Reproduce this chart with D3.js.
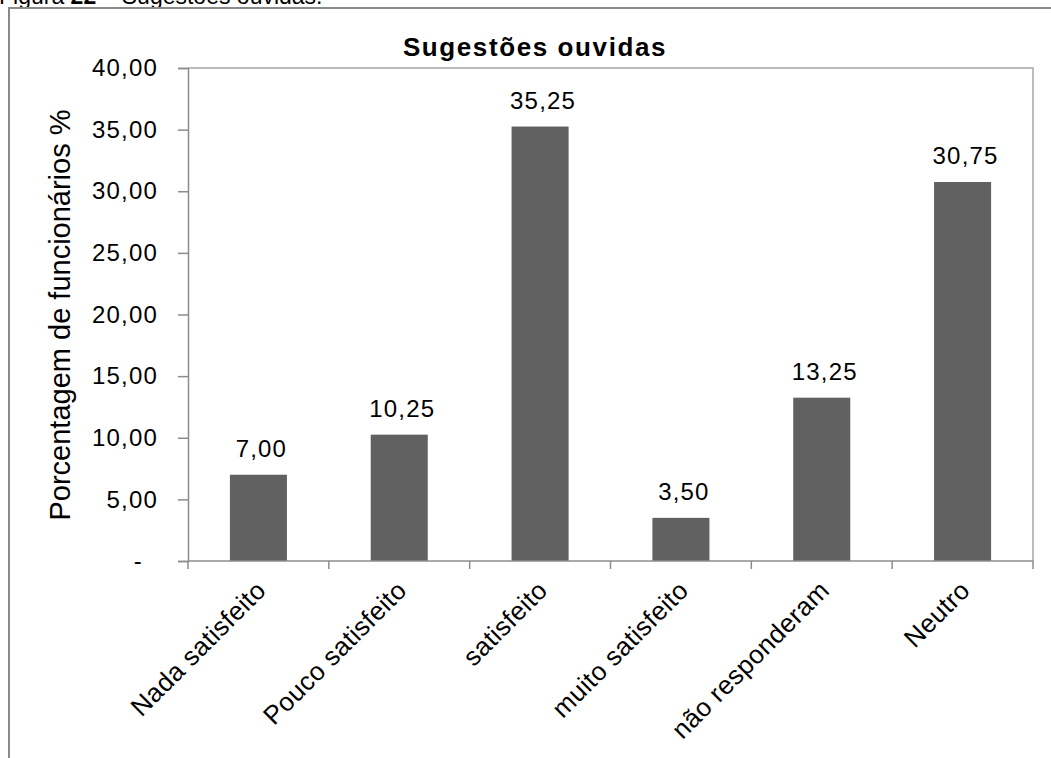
<!DOCTYPE html>
<html>
<head>
<meta charset="utf-8">
<script src="https://cdn.jsdelivr.net/npm/d3@7"></script>
<style>
  html, body { margin: 0; padding: 0; background: #fff; }
  svg { display: block; font-family: Arial, "Liberation Sans", sans-serif; }
</style>
</head>
<body>
<svg id="chart" width="1051" height="758"></svg>
<script>
// Survey answers: share of employees per satisfaction level
const categories = ["Nada satisfeito", "Pouco satisfeito", "satisfeito", "muito satisfeito", "não responderam", "Neutro"];
const values = [7.00, 10.25, 35.25, 3.50, 13.25, 30.75];
const yTicks = [0, 5, 10, 15, 20, 25, 30, 35, 40];
const yTickLabels = ["-", "5,00", "10,00", "15,00", "20,00", "25,00", "30,00", "35,00", "40,00"];
const chartTitle = "Sugestões ouvidas";
const yAxisTitle = "Porcentagem de funcionários %";

const svg = d3.select("#chart");
const W = 1051, H = 758;
const plot = { left: 188, right: 1033, top: 68, bottom: 561 };

const fmt = v => v.toFixed(2).replace(".", ",");

// Figure caption above the frame
const cap = svg.append("text").attr("x", -1).attr("y", 4)
  .style("font-size", "23px").attr("fill", "#000");
cap.append("tspan").text("Figura ");
cap.append("tspan").attr("font-weight", "bold").text("22");
cap.append("tspan").text(" – Sugestões ouvidas.");

// Outer chart frame
svg.append("rect")
  .attr("x", 9).attr("y", 8).attr("width", W + 20).attr("height", H + 20)
  .attr("fill", "none").attr("stroke", "#8a8a8a").attr("stroke-width", 2);

const x = d3.scaleBand().domain(categories).range([plot.left, plot.right]).padding(0);
const y = d3.scaleLinear().domain([0, 40]).range([plot.bottom, plot.top]);
const barW = x.bandwidth() * 0.405;

// Plot area border (top and right)
svg.append("path")
  .attr("d", `M${plot.left},${plot.top}H${plot.right}V${plot.bottom}`)
  .attr("fill", "none").attr("stroke", "#a6a6a6").attr("stroke-width", 1.5);

// Bars
svg.append("g").selectAll("rect")
  .data(values)
  .join("rect")
  .attr("x", (d, i) => x(categories[i]) + (x.bandwidth() - barW) / 2)
  .attr("y", d => y(d))
  .attr("width", barW)
  .attr("height", d => y(0) - y(d))
  .attr("fill", "#616161");

// Value labels
svg.append("g").selectAll("text")
  .data(values)
  .join("text")
  .attr("x", (d, i) => x(categories[i]) + x.bandwidth() / 2 + 3)
  .attr("y", d => y(d) - 18)
  .attr("text-anchor", "middle")
  .style("font-size", "24px")
  .style("letter-spacing", "1.2px")
  .attr("fill", "#000")
  .text(d => fmt(d));

// Y axis
const yAxis = d3.axisLeft(y)
  .tickValues(yTicks)
  .tickFormat((d, i) => yTickLabels[i])
  .tickSize(10)
  .tickPadding(20);
const gy = svg.append("g").attr("transform", `translate(${plot.left},0)`).call(yAxis);
gy.select(".domain").attr("stroke", "#8c8c8c").attr("stroke-width", 1.5);
gy.selectAll(".tick line").attr("stroke", "#8c8c8c").attr("stroke-width", 1.5);
gy.selectAll(".tick text")
  .style("font-size", "24px").style("font-family", "Arial, 'Liberation Sans', sans-serif")
  .style("letter-spacing", "1.2px")
  .attr("fill", "#000")
  .attr("dx", (d, i) => i === 0 ? -15 : 0);

// X axis with boundary ticks between categories
svg.append("line")
  .attr("x1", plot.left).attr("x2", plot.right)
  .attr("y1", plot.bottom).attr("y2", plot.bottom)
  .attr("stroke", "#8c8c8c").attr("stroke-width", 1.5);
const bounds = categories.map(c => x(c)).concat([plot.right]);
svg.append("g").selectAll("line")
  .data(bounds)
  .join("line")
  .attr("x1", d => d).attr("x2", d => d)
  .attr("y1", plot.bottom).attr("y2", plot.bottom + 8)
  .attr("stroke", "#8c8c8c").attr("stroke-width", 1.5);

// Rotated category labels
svg.append("g").selectAll("text")
  .data(categories)
  .join("text")
  .attr("text-anchor", "end")
  .attr("transform", d => `translate(${x(d) + x.bandwidth() / 2 + 9},${plot.bottom + 31}) rotate(-45)`)
  .style("font-size", "26px")
  .style("letter-spacing", "0.4px")
  .attr("fill", "#000")
  .text(d => d);

// Chart title
svg.append("text")
  .attr("x", 535)
  .attr("y", 56)
  .attr("text-anchor", "middle")
  .style("font-size", "26px").attr("font-weight", "bold")
  .style("letter-spacing", "1.6px")
  .attr("fill", "#000")
  .text(chartTitle);

// Y axis title
svg.append("text")
  .attr("transform", `translate(70,${(108 + 522) / 2}) rotate(-90)`)
  .attr("text-anchor", "middle")
  .style("font-size", "29px")
  .attr("fill", "#000")
  .text(yAxisTitle);
</script>
</body>
</html>
